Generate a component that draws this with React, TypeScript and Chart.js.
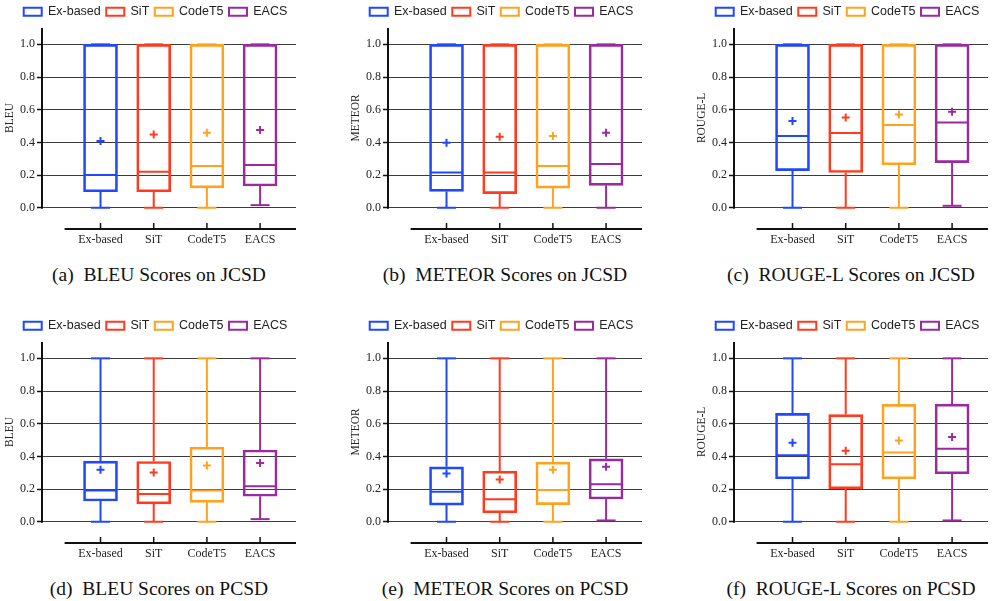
import React, { useEffect, useRef } from 'react';
import { Chart, registerables } from 'chart.js';

Chart.register(...registerables);

// ---------- data ----------
const METHODS = ['Ex-based', 'SiT', 'CodeT5', 'EACS'];
const Y_TICKS = [0, 0.2, 0.4, 0.6, 0.8, 1.0];

// (a) BLEU Scores on JCSD
const bleuJcsdMin = [0, 0, 0, 0.016];
const bleuJcsdQ1 = [0.098, 0.098, 0.122, 0.133];
const bleuJcsdMedian = [0.2, 0.22, 0.255, 0.261];
const bleuJcsdQ3 = [1, 1, 1, 1];
const bleuJcsdMax = [1, 1, 1, 1];
const bleuJcsdMean = [0.408, 0.449, 0.459, 0.476];

// (b) METEOR Scores on JCSD
const meteorJcsdMin = [0, 0, 0, 0];
const meteorJcsdQ1 = [0.1, 0.086, 0.12, 0.137];
const meteorJcsdMedian = [0.216, 0.216, 0.255, 0.267];
const meteorJcsdQ3 = [1, 1, 1, 1];
const meteorJcsdMax = [1, 1, 1, 1];
const meteorJcsdMean = [0.398, 0.435, 0.439, 0.459];

// (c) ROUGE-L Scores on JCSD
const rougeJcsdMin = [0, 0, 0, 0.012];
const rougeJcsdQ1 = [0.227, 0.216, 0.263, 0.276];
const rougeJcsdMedian = [0.439, 0.457, 0.506, 0.522];
const rougeJcsdQ3 = [1, 1, 1, 1];
const rougeJcsdMax = [1, 1, 1, 1];
const rougeJcsdMean = [0.531, 0.553, 0.571, 0.588];

// (d) BLEU Scores on PCSD
const bleuPcsdMin = [0, 0, 0, 0.016];
const bleuPcsdQ1 = [0.127, 0.109, 0.119, 0.156];
const bleuPcsdMedian = [0.191, 0.17, 0.191, 0.217];
const bleuPcsdQ3 = [0.371, 0.369, 0.457, 0.439];
const bleuPcsdMax = [1, 1, 1, 1];
const bleuPcsdMean = [0.318, 0.301, 0.344, 0.359];

// (e) METEOR Scores on PCSD
const meteorPcsdMin = [0, 0, 0, 0.008];
const meteorPcsdQ1 = [0.102, 0.055, 0.105, 0.139];
const meteorPcsdMedian = [0.184, 0.137, 0.195, 0.23];
const meteorPcsdQ3 = [0.336, 0.309, 0.365, 0.385];
const meteorPcsdMax = [1, 1, 1, 1];
const meteorPcsdMean = [0.295, 0.258, 0.318, 0.336];

// (f) ROUGE-L Scores on PCSD
const rougePcsdMin = [0, 0, 0, 0.008];
const rougePcsdQ1 = [0.263, 0.202, 0.263, 0.294];
const rougePcsdMedian = [0.407, 0.352, 0.424, 0.446];
const rougePcsdQ3 = [0.663, 0.656, 0.718, 0.72];
const rougePcsdMax = [1, 1, 1, 1];
const rougePcsdMean = [0.484, 0.434, 0.498, 0.519];

// ---------- style ----------
const METHOD_COLORS = ['#1f48ff', '#ff3b1f', '#ffa21f', '#9b2a9f'];
const SERIF = '"Liberation Serif", "DejaVu Serif", serif';
const SANS = '"Liberation Sans", Arial, sans-serif';
const X_MIN = -0.1;
const X_MAX = 4.675;
const X_LINE_START = 0.325;
const Y_MIN = -0.13;
const Y_MAX = 1.1;

const boxExtras = {
  id: 'boxExtras',
  afterDatasetsDraw(chart: any, _args: any, opts: any) {
    const { ctx } = chart;
    const x = chart.scales.x;
    const y = chart.scales.y;
    ctx.save();
    ctx.lineCap = 'butt';
    METHODS.forEach((_, i) => {
      const bar = chart.getDatasetMeta(i).data[0] as any;
      const half = bar ? bar.width / 2 : 17;
      const cx = x.getPixelForValue(i + 1);
      const capHalf = 9.5;
      ctx.strokeStyle = METHOD_COLORS[i];
      ctx.lineWidth = 2;
      const line = (x1: number, y1: number, x2: number, y2: number) => {
        ctx.beginPath();
        ctx.moveTo(x1, y1);
        ctx.lineTo(x2, y2);
        ctx.stroke();
      };
      const yMin = y.getPixelForValue(opts.min[i]);
      const yQ1 = y.getPixelForValue(opts.q1[i]);
      const yQ3 = y.getPixelForValue(opts.q3[i]);
      const yMax = y.getPixelForValue(opts.max[i]);
      const yMed = y.getPixelForValue(opts.median[i]);
      if (yMin - yQ1 > 0.5) line(cx, yMin, cx, yQ1);
      if (yQ3 - yMax > 0.5) line(cx, yQ3, cx, yMax);
      line(cx - capHalf, yMin, cx + capHalf, yMin);
      line(cx - capHalf, yMax, cx + capHalf, yMax);
      line(cx - half + 1, yMed, cx + half - 1, yMed);
    });
    ctx.restore();
  },
  afterDraw(chart: any, _args: any, opts: any) {
    const { ctx } = chart;
    const x = chart.scales.x;
    const y = chart.scales.y;
    ctx.save();
    ctx.strokeStyle = '#111';
    ctx.lineWidth = 2;
    // y axis line (from top to 0)
    const yTop = y.getPixelForValue(Y_MAX);
    const yZero = y.getPixelForValue(0);
    ctx.beginPath();
    ctx.moveTo(x.left, yTop);
    ctx.lineTo(x.left, yZero + 1);
    ctx.stroke();
    // detached x axis line
    const yb = y.bottom;
    ctx.beginPath();
    ctx.moveTo(x.getPixelForValue(X_LINE_START), yb);
    ctx.lineTo(x.getPixelForValue(X_MAX), yb);
    ctx.stroke();
    // x ticks pointing up
    ctx.lineWidth = 1.5;
    METHODS.forEach((_, i) => {
      const cx = x.getPixelForValue(i + 1);
      ctx.beginPath();
      ctx.moveTo(cx, yb - 6);
      ctx.lineTo(cx, yb);
      ctx.stroke();
    });
    // y title
    ctx.fillStyle = '#222';
    ctx.font = `11.5px ${SERIF}`;
    ctx.textAlign = 'center';
    ctx.textBaseline = 'middle';
    ctx.translate(x.left - 32.5, (yTop + yZero) / 2);
    ctx.rotate(-Math.PI / 2);
    ctx.fillText(opts.title, 0, 0);
    ctx.restore();
  },
};

type PanelProps = {
  left: number;
  top: number;
  yTitle: string;
  caption: string;
  min: number[];
  q1: number[];
  median: number[];
  q3: number[];
  max: number[];
  mean: number[];
};

function Panel(p: PanelProps) {
  const ref = useRef<HTMLCanvasElement | null>(null);
  useEffect(() => {
    if (!ref.current) return;
    const tickFont = { family: SERIF, size: 12 };
    const chart = new Chart(ref.current, {
      type: 'bar',
      data: {
        datasets: [
          ...METHODS.map((m, i) => ({
            type: 'bar' as const,
            label: m,
            data: [{ x: i + 1, y: [p.q1[i], p.q3[i]] }] as any,
            borderColor: METHOD_COLORS[i],
            backgroundColor: 'rgba(0,0,0,0)',
            borderWidth: 2,
            borderSkipped: false,
            barThickness: 34,
            grouped: false,
            xAxisID: 'x',
            yAxisID: 'y',
            order: 2,
          })),
          {
            type: 'scatter' as const,
            label: 'Mean',
            data: p.mean.map((v, i) => ({ x: i + 1, y: v })) as any,
            pointStyle: 'cross',
            pointRadius: 4,
            pointHoverRadius: 4,
            pointBorderWidth: 2,
            pointBorderColor: METHOD_COLORS,
            borderColor: METHOD_COLORS,
            backgroundColor: METHOD_COLORS,
            showLine: false,
            xAxisID: 'x',
            yAxisID: 'y',
            order: 1,
          } as any,
        ],
      },
      options: {
        responsive: false,
        animation: false,
        devicePixelRatio: 1,
        layout: { padding: 0 },
        events: [],
        plugins: {
          legend: {
            position: 'top',
            labels: {
              boxWidth: 18,
              boxHeight: 8,
              padding: 5.5,
              color: '#222',
              font: { family: SANS, size: 12.5 },
              filter: (item: any) => item.datasetIndex < METHODS.length,
            },
          },
          tooltip: { enabled: false },
          boxExtras: {
            min: p.min,
            q1: p.q1,
            median: p.median,
            q3: p.q3,
            max: p.max,
            title: p.yTitle,
          },
        } as any,
        scales: {
          x: {
            type: 'linear',
            offset: false,
            min: X_MIN,
            max: X_MAX,
            grid: { display: false, drawTicks: false, offset: false },
            border: { display: false },
            afterBuildTicks: (s: any) => {
              s.ticks = METHODS.map((_, i) => ({ value: i + 1 }));
            },
            afterFit: (s: any) => {
              s.height = 21;
            },
            ticks: {
              autoSkip: false,
              maxRotation: 0,
              padding: 4,
              color: '#222',
              font: tickFont,
              callback: (v: any) => METHODS[Math.round(Number(v)) - 1] ?? '',
            },
          },
          y: {
            type: 'linear',
            min: Y_MIN,
            max: Y_MAX,
            afterBuildTicks: (s: any) => {
              s.ticks = Y_TICKS.map((v) => ({ value: v }));
            },
            afterFit: (s: any) => {
              s.width = 42;
            },
            grid: {
              color: '#3c3c3c',
              lineWidth: 1,
              drawTicks: true,
              tickLength: 5,
              tickColor: '#111',
              tickWidth: 1.5,
            },
            border: { display: false },
            ticks: {
              padding: 2,
              color: '#222',
              font: tickFont,
              callback: (v: any) => Number(v).toFixed(1),
            },
          },
          yR: {
            type: 'linear',
            position: 'right',
            display: true,
            min: 0,
            max: 1,
            grid: { display: false, drawTicks: false },
            border: { display: false },
            ticks: { display: false },
            afterFit: (s: any) => {
              s.width = 15;
            },
          },
        },
      } as any,
      plugins: [boxExtras],
    });
    return () => chart.destroy();
  }, []);

  return (
    <>
      <canvas
        ref={ref}
        width={311}
        height={250}
        style={{ position: 'absolute', left: p.left, top: p.top, width: 311, height: 250 }}
      />
      <div
        style={{
          position: 'absolute',
          left: p.left + 159 - 160,
          top: p.top + 264.7,
          width: 320,
          textAlign: 'center',
          fontFamily: SERIF,
          fontSize: '19.5px',
          lineHeight: '19.5px',
          whiteSpace: 'pre',
          color: '#111',
        }}
      >
        {p.caption}
      </div>
    </>
  );
}

export default function App() {
  return (
    <div
      style={{
        position: 'absolute',
        left: 0,
        top: 0,
        width: 992,
        height: 601,
        overflow: 'hidden',
        background: '#fff',
      }}
    >
      <Panel left={0} top={0} yTitle="BLEU" caption="(a)  BLEU Scores on JCSD"
        min={bleuJcsdMin} q1={bleuJcsdQ1} median={bleuJcsdMedian} q3={bleuJcsdQ3} max={bleuJcsdMax} mean={bleuJcsdMean} />
      <Panel left={346} top={0} yTitle="METEOR" caption="(b)  METEOR Scores on JCSD"
        min={meteorJcsdMin} q1={meteorJcsdQ1} median={meteorJcsdMedian} q3={meteorJcsdQ3} max={meteorJcsdMax} mean={meteorJcsdMean} />
      <Panel left={692} top={0} yTitle="ROUGE-L" caption="(c)  ROUGE-L Scores on JCSD"
        min={rougeJcsdMin} q1={rougeJcsdQ1} median={rougeJcsdMedian} q3={rougeJcsdQ3} max={rougeJcsdMax} mean={rougeJcsdMean} />
      <Panel left={0} top={314} yTitle="BLEU" caption="(d)  BLEU Scores on PCSD"
        min={bleuPcsdMin} q1={bleuPcsdQ1} median={bleuPcsdMedian} q3={bleuPcsdQ3} max={bleuPcsdMax} mean={bleuPcsdMean} />
      <Panel left={346} top={314} yTitle="METEOR" caption="(e)  METEOR Scores on PCSD"
        min={meteorPcsdMin} q1={meteorPcsdQ1} median={meteorPcsdMedian} q3={meteorPcsdQ3} max={meteorPcsdMax} mean={meteorPcsdMean} />
      <Panel left={692} top={314} yTitle="ROUGE-L" caption="(f)  ROUGE-L Scores on PCSD"
        min={rougePcsdMin} q1={rougePcsdQ1} median={rougePcsdMedian} q3={rougePcsdQ3} max={rougePcsdMax} mean={rougePcsdMean} />
    </div>
  );
}
